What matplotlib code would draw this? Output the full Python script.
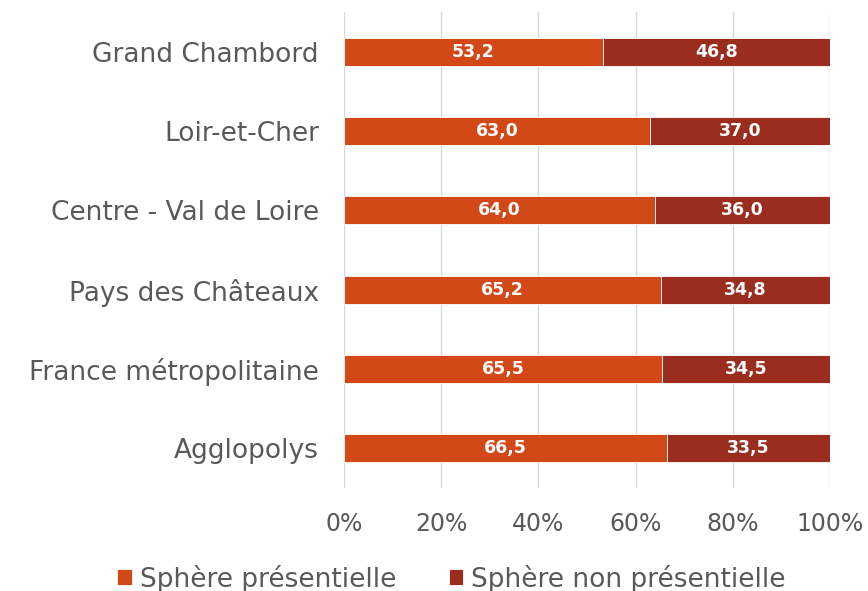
import matplotlib
matplotlib.use('Agg')

import matplotlib.pyplot as plt
from matplotlib.ticker import PercentFormatter

categories = ["Grand Chambord", "Loir-et-Cher", "Centre - Val de Loire",
              "Pays des Châteaux", "France métropolitaine", "Agglopolys"]
presentielle = [53.2, 63.0, 64.0, 65.2, 65.5, 66.5]
non_presentielle = [46.8, 37.0, 36.0, 34.8, 34.5, 33.5]
series_names = ["Sphère présentielle", "Sphère non présentielle"]
xticks = [0, 20, 40, 60, 80, 100]


def fmt(v):
    return f"{v:.1f}".replace(".", ",")


fig = plt.figure(figsize=(8.68, 5.91), dpi=100)
ax = fig.add_axes([0.3963, 0.1743, 0.5599, 0.8054])

ypos = list(range(len(categories)))
b1 = ax.barh(ypos, presentielle, height=0.35, color="#D34817",
             edgecolor="white", linewidth=0.6, label=series_names[0], zorder=3)
b2 = ax.barh(ypos, non_presentielle, left=presentielle, height=0.35,
             color="#9B2D1F", edgecolor="white", linewidth=0.6,
             label=series_names[1], zorder=3)

for bars, vals in ((b1, presentielle), (b2, non_presentielle)):
    ax.bar_label(bars, labels=[fmt(v) for v in vals], label_type="center",
                 color="white", fontsize=12.5, fontweight="bold")

ax.set_xlim(0, 100)
ax.set_ylim(len(categories) - 0.5, -0.5)
ax.set_xticks(xticks)
ax.xaxis.set_major_formatter(PercentFormatter(decimals=0))
ax.set_yticks(ypos)
ax.set_yticklabels(categories)
ax.tick_params(axis="both", length=0, labelcolor="#595959")
ax.tick_params(axis="y", pad=18, labelsize=19)
ax.tick_params(axis="x", pad=17, labelsize=17)
ax.xaxis.grid(True, color="#D9D9D9", linewidth=1, zorder=0)
for s in ax.spines.values():
    s.set_visible(False)

fig.legend(handles=[b1, b2], loc="lower center", bbox_to_anchor=(0.52, -0.043),
           ncol=2, frameon=False, fontsize=19, handlelength=0.55,
           handleheight=0.55, handletextpad=0.3, columnspacing=2.0,
           labelcolor="#595959")

plt.savefig("out.png")
